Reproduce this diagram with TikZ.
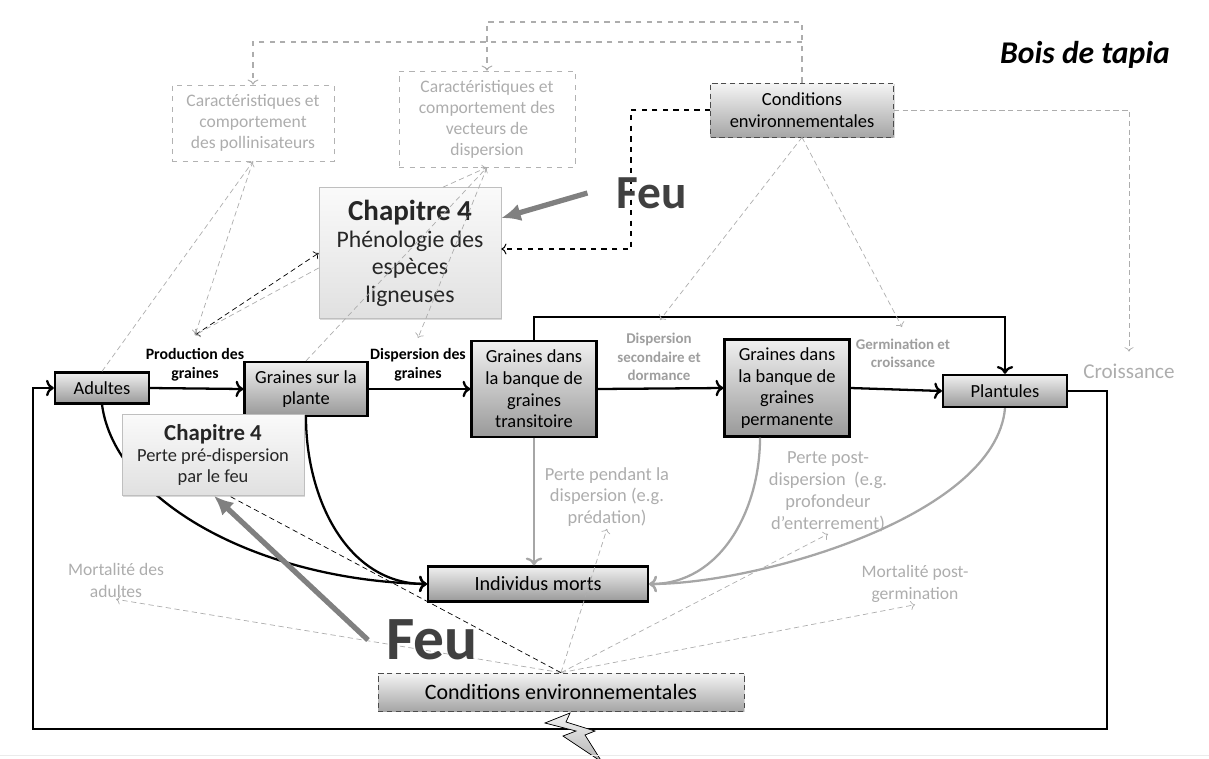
\documentclass[tikz,border=0pt]{standalone}
\usepackage{fontspec}
\setmainfont{Carlito}
\usetikzlibrary{shadows,arrows.meta}

\tikzset{
  ombre/.style={drop shadow={opacity=0.3,shadow xshift=0.7pt,shadow yshift=-0.7pt}},
  stade/.style={draw,line width=1.3pt,top color=black!6,bottom color=black!40,
    align=center,inner sep=0pt,ombre,font=\fontsize{10.5}{12.3}\selectfont},
  chapitre/.style={draw=black!25,top color=black!2,bottom color=black!12,
    align=center,inner sep=0pt,ombre,text=black!85},
  milieu/.style={draw=black!70,densely dashed,top color=black!4,bottom color=black!35,
    align=center,inner sep=0pt,ombre},
  facteur/.style={draw=black!30,dashed,text=black!32,align=center,inner sep=0pt,
    font=\fontsize{10}{12}\selectfont},
  processus/.style={align=center,inner sep=1pt,font=\bfseries\fontsize{9}{10.8}\selectfont},
  perte/.style={align=center,inner sep=1pt,text=black!32,font=\fontsize{10.5}{12.4}\selectfont},
  feu/.style={inner sep=0pt,text=black!75,font=\bfseries\fontsize{#1}{#1}\selectfont},
  flux/.style={line width=1.3pt,->},
  mortalite/.style={line width=1.3pt,black!35,->},
  influence/.style={black!32,densely dashed,->},
  cadre/.style={black!32,dashed,semithick,->},
  incendie/.style={line width=3pt,black!50,-{Latex[length=11pt,width=10pt]}}
}

\begin{document}
\begin{tikzpicture}[x=0.02cm,y=-0.02cm]
\useasboundingbox (0,0) rectangle (1209,758);

\node[stade,minimum width=1.88cm,minimum height=0.62cm] (adultes) at (102,388) {Adultes};
\node[stade,minimum width=2.46cm,minimum height=1.08cm] (plante) at (306,389) {Graines sur la\\plante};
\node[stade,minimum width=2.5cm,minimum height=1.92cm] (transitoire) at (534,389) {Graines dans\\la banque de\\graines\\transitoire};
\node[stade,minimum width=2.5cm,minimum height=1.94cm] (permanente) at (787,388) {Graines dans\\la banque de\\graines\\permanente};
\node[stade,minimum width=2.48cm,minimum height=0.64cm] (plantules) at (1005,391) {Plantules};
\node[stade,minimum width=4.4cm,minimum height=0.7cm,font=\fontsize{11.5}{13}\selectfont] (morts) at (538,584) {Individus morts};

\node[milieu,minimum width=3.66cm,minimum height=1.08cm,font=\fontsize{10.5}{12.3}\selectfont] (condhaut) at (802,110) {Conditions\\environnementales};
\node[milieu,minimum width=7.32cm,minimum height=0.76cm,font=\fontsize{12.5}{14}\selectfont] (condbas) at (561,692) {Conditions environnementales};

\node[facteur,minimum width=3.24cm,minimum height=1.52cm] (pollinisateurs) at (253,123) {Caractéristiques et\\comportement\\des pollinisateurs};
\node[facteur,minimum width=3.52cm,minimum height=1.92cm] (vecteurs) at (487,119) {Caractéristiques et\\comportement des\\vecteurs de\\dispersion};

\node[chapitre,minimum width=3.64cm,minimum height=2.62cm,font=\fontsize{13.5}{15.6}\selectfont] (phenologie) at (410,253) {{\bfseries\fontsize{16.5}{19}\selectfont Chapitre 4}\\Phénologie des\\espèces\\ligneuses};

\node[processus] (production) at (195,365) {Production des\\graines};
\node[processus] (dispgraines) at (418,365) {Dispersion des\\graines};
\node[processus,text=black!38,font=\bfseries\fontsize{8.5}{10.4}\selectfont] (dispsec) at (659,357) {Dispersion\\secondaire et\\dormance};
\node[processus,text=black!38,font=\bfseries\fontsize{8.5}{10.4}\selectfont] (germination) at (903,353) {Germination et\\croissance};
\node[perte,font=\fontsize{12}{14}\selectfont] (croissance) at (1129,371) {Croissance};
\node[perte] (pendant) at (607,497) {Perte pendant la\\dispersion (e.g.\\prédation)};
\node[perte] (postdisp) at (828,492) {Perte post-\\dispersion~ (e.g.\\profondeur\\d’enterrement)};
\node[perte,font=\fontsize{10}{12.5}\selectfont] (madultes) at (116,580) {Mortalité des\\adultes};
\node[perte,font=\fontsize{10}{12.5}\selectfont] (mgermination) at (915,584) {Mortalité post-\\germination};

\node[font=\bfseries\itshape\fontsize{18}{20}\selectfont] (titre) at (1085,55) {Bois de tapia};

\draw[flux] (adultes.east) -- (plante.west);
\draw[flux] (plante.east) -- (transitoire.west);
\draw[flux] (transitoire.east) -- (permanente.west);
\draw[flux] (permanente.east) -- (plantules.west);
\coordinate (barre) at (0,317);
\draw[flux] (transitoire.north) |- (barre -| plantules.north) -- (plantules.north);
\coordinate (coinD) at (1107,729);
\coordinate (coinG) at (33,729);
\draw[flux] (plantules.east) -| (coinD) -- (coinG) |- (adultes.west);

\draw[flux] (adultes.south) .. controls +(13,97) and +(-168,-4) .. (morts.west);
\draw[flux] (plante.south) to[out=-90,in=180] (morts.west);
\draw[mortalite] (transitoire.south) -- (transitoire.south |- morts.north);
\draw[mortalite] ([xshift=-0.54cm]permanente.south) to[out=-90,in=0] (morts.east);
\draw[mortalite] (plantules.south) to[out=-95,in=0,looseness=0.7] (morts.east);

\node[chapitre,minimum width=3.64cm,minimum height=1.62cm,font=\fontsize{10.5}{12}\selectfont] (pertefeu) at (213,455) {{\bfseries\fontsize{13}{15}\selectfont Chapitre 4}\\Perte pré-dispersion\\par le feu};

\coordinate (ligneA) at (0,22);
\coordinate (ligneB) at (0,42);
\draw[cadre] (condhaut.north) |- (vecteurs.north |- ligneA) -- (vecteurs.north);
\draw[cadre] (condhaut.north |- ligneB) -| (pollinisateurs.north);
\draw[influence] (condhaut.east) -| ([yshift=0.2cm]croissance.north);
\coordinate (pointesec) at (660,320);
\coordinate (pointegerm) at (902,327);
\draw[influence] (condhaut.south) -- (pointesec);
\draw[influence] (condhaut.south) -- (pointegerm);
\coordinate (coinfeu) at (631,249);
\draw[dashed,semithick,->] (condhaut.west) -| (coinfeu) -- (phenologie.east |- coinfeu);

\coordinate (pointeprod) at (195,335);
\coordinate (pointedisp) at (418,338);
\draw[influence] (adultes.north) -- (pollinisateurs.south);
\draw[influence] (pollinisateurs.south) -- (pointeprod);
\draw[densely dashed,<->] (pointeprod) -- (phenologie.west);
\draw[influence] ([yshift=-0.3cm]phenologie.west) -- (pointeprod);
\draw[influence] ([xshift=0.66cm]phenologie.north) -- (vecteurs.south);
\draw[influence] (plante.north) -- (vecteurs.south);
\draw[influence] (vecteurs.south) -- (pointedisp);

\draw[influence] (condbas.north) -- (madultes.south);
\draw[influence] (condbas.north) -- (pendant.south);
\draw[influence] (condbas.north) -- (postdisp.south);
\draw[influence] (condbas.north) -- (mgermination.south);
\draw[densely dashed] (condbas.north) -- ([xshift=0.32cm]pertefeu.south);

\node[feu=27] (feuhaut) at (652,193) {Feu};
\node[feu=35] (feubas) at (432,640) {Feu};
\draw[incendie] ([xshift=-0.58cm]feuhaut.west) -- ([yshift=0.7cm]phenologie.east);
\draw[incendie] ([xshift=-0.36cm]feubas.west) -- ([xshift=0.02cm]pertefeu.south);

\filldraw[top color=black!5,bottom color=black!30,draw=black,thin] (570,713) -- (545,723) -- (576,731) -- (563,736) -- (602,762) -- (585,735) -- (595,731) -- (566,722) -- cycle;
\draw[black!8] (0,755) -- (1209,755);
\end{tikzpicture}
\end{document}
